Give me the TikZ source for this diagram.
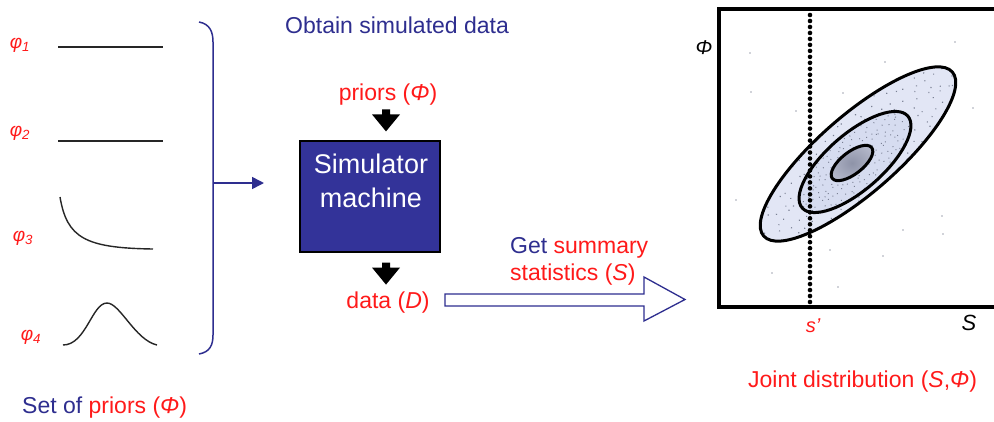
\documentclass[tikz,border=0pt]{standalone}
\usepackage{fontspec}
\setmainfont{Liberation Sans}
\usetikzlibrary{calc,arrows.meta}
\definecolor{navy}{HTML}{2E2E8F}
\definecolor{simblue}{HTML}{333399}
\definecolor{hotred}{HTML}{FF1A1A}
\definecolor{outerfill}{HTML}{E2E6F5}
\definecolor{midfill}{HTML}{D6DCF0}
\definecolor{innerfill}{HTML}{B3B7C9}
\definecolor{innerdark}{HTML}{8E93A8}
\definecolor{speck}{HTML}{7A8094}

\begin{document}
\begin{tikzpicture}[x=1pt,y=-1pt,
  lbl/.style={font=\fontsize{23}{27}\selectfont, inner sep=0pt},
  phil/.style={font=\fontsize{19}{22}\selectfont\itshape, text=hotred, inner sep=0pt},
  priorcurve/.style={line width=1.4pt, draw=black!85},
  contour/.style={draw=black, line width=3pt},
  downarrow/.pic={\fill[black] (-4,0) -- (4,0) -- (4,5) -- (14,5) -- (0,22) -- (-14,5) -- (-4,5) -- cycle;},
  speckdot/.style={fill=speck},
]
\useasboundingbox (0,0) rectangle (994,421);
\clip (0,0) rectangle (994,421);
\fill[white] (0,0) rectangle (994,421);

% ---- set of priors ----
\node[phil] (p1) at (20,45) {φ\textsubscript{1}};
\node[phil] (p2) at (20,133) {φ\textsubscript{2}};
\node[phil] (p3) at (23,238) {φ\textsubscript{3}};
\node[phil] (p4) at (31,337) {φ\textsubscript{4}};

\draw[priorcurve] (58,47) -- (163,47);
\draw[priorcurve] (58,141) -- (163,141);
\draw[priorcurve] (60,197) .. controls (67,238) and (85,248) .. (153,249);
\draw[priorcurve] (63,345) .. controls (86,345) and (92,303) .. (107,303)
                  .. controls (120,303) and (135,340) .. (157,345);

\node[lbl, anchor=base west] (setp) at (22,413)
  {\textcolor{navy}{Set of} \textcolor{hotred}{priors (\textit{Φ})}};

% ---- bracket and arrow into the simulator ----
\draw[navy, line width=1.5pt] (199,22) .. controls (210,24) and (213,32) .. (213,42)
  -- (213,335) .. controls (213,345) and (210,352) .. (199,354);
\coordinate (brmid) at (213,183);
\coordinate (simin) at (264,183);
\draw[navy, line width=1.5pt, -{Triangle[length=12pt,width=12pt]}] (brmid) -- (simin);

% ---- simulator ----
\node[lbl, anchor=base west, text=navy] (obt) at (285,33) {Obtain simulated data};
\node[lbl, anchor=base, text=hotred] (pin) at (388,100) {priors (\textit{Φ})};
\node[draw=black, line width=1.2pt, fill=simblue, minimum width=140pt,
      minimum height=111pt, inner sep=0pt] (sim) at (370,196.5) {};
\node[lbl, font=\fontsize{27}{32}\selectfont, text=white, anchor=base] (simt1) at (371,173) {Simulator};
\node[lbl, font=\fontsize{27}{32}\selectfont, text=white, anchor=base] (simt2) at (371,207) {machine};
\node[lbl, anchor=base, text=hotred] (dat) at (388,308) {data (\textit{D})};

\pic at ($(sim.north)+(16,-31)$) {downarrow};
\pic at ($(sim.south)+(16,10)$) {downarrow};

% ---- summary statistics arrow ----
\draw[navy, line width=1.3pt, fill=white] (445,294) -- (644,294) -- (644,277) -- (685,299.5)
  -- (644,321) -- (644,306) -- (445,306) -- cycle;
\node[lbl, anchor=base west] (gss1) at (510,253) {\textcolor{navy}{Get} \textcolor{hotred}{summary}};
\node[lbl, anchor=base west, text=hotred] (gss2) at (510,280) {statistics (\textit{S})};

% ---- joint distribution plot ----
% scattered points outside the contours
\foreach \px/\py in {750/53, 751/92, 796/111, 736/200, 772/273, 885/62, 843/93, 955/42,
                     973/108, 903/230, 883/256, 838/287, 942/216, 943/234, 880/110, 830/250}
  \fill[speck!70] (\px,\py) circle (0.9);

% outer contour
\begin{scope}[shift={(858,154)}, rotate=41]
  \fill[outerfill] (0,0) ellipse [x radius=125, y radius=39];
  \begin{scope}
    \clip (0,0) ellipse [x radius=125, y radius=39];
    \pgfmathsetseed{11}
    \foreach \i in {-120,-110,...,120}
      \foreach \j in {-40,-30,...,40} {
        \pgfmathsetmacro\dx{\i+4*rand}
        \pgfmathsetmacro\dy{\j+4*rand}
        \fill[speckdot] (\dx,\dy) circle (0.8);
      }
  \end{scope}
\end{scope}

% middle contour
\begin{scope}[shift={(855,162)}, rotate=41]
  \fill[midfill] (0,0) ellipse [x radius=70, y radius=28];
  \begin{scope}
    \clip (0,0) ellipse [x radius=70, y radius=28];
    \pgfmathsetseed{5}
    \foreach \i in {-70,-64,...,70}
      \foreach \j in {-29,-23,...,29} {
        \pgfmathsetmacro\dx{\i+2.5*rand}
        \pgfmathsetmacro\dy{\j+2.5*rand}
        \fill[speckdot] (\dx,\dy) circle (0.7);
      }
  \end{scope}
\end{scope}

% inner contour
\begin{scope}[shift={(852,163)}, rotate=38]
  \shade[inner color=innerdark, outer color=innerfill] (0,0) ellipse [x radius=25, y radius=11];
\end{scope}

% contour outlines
\draw[contour, shift={(858,154)}, rotate=41] (0,0) ellipse [x radius=125, y radius=39];
\draw[contour, shift={(855,162)}, rotate=41] (0,0) ellipse [x radius=70, y radius=28];
\draw[contour, shift={(852,163)}, rotate=38] (0,0) ellipse [x radius=25, y radius=11];

% observed statistic, drawn as a row of round dots
\coordinate (stop) at (810,15);
\coordinate (sbot) at (810,302);
\foreach \k in {0,...,48}
  \fill[black] ($(stop)!\k/48!(sbot)$) circle (2.3);

% frame
\draw[line width=4pt] (1000,9) -- (719,9) -- (719,307) -- (1000,307);

\node[font=\fontsize{20}{22}\selectfont\itshape, inner sep=0pt] (phiax) at (704,48) {Φ};
\node[font=\fontsize{20}{24}\selectfont\itshape, text=hotred, anchor=base, inner sep=0pt] (sobs) at (813,332) {s’};
\node[font=\fontsize{22}{26}\selectfont\itshape, anchor=base, inner sep=0pt] (sax) at (969,330) {S};

\node[lbl, anchor=base west, text=hotred] (joint) at (748,387) {Joint distribution (\textit{S},\textit{Φ})};
\end{tikzpicture}
\end{document}
